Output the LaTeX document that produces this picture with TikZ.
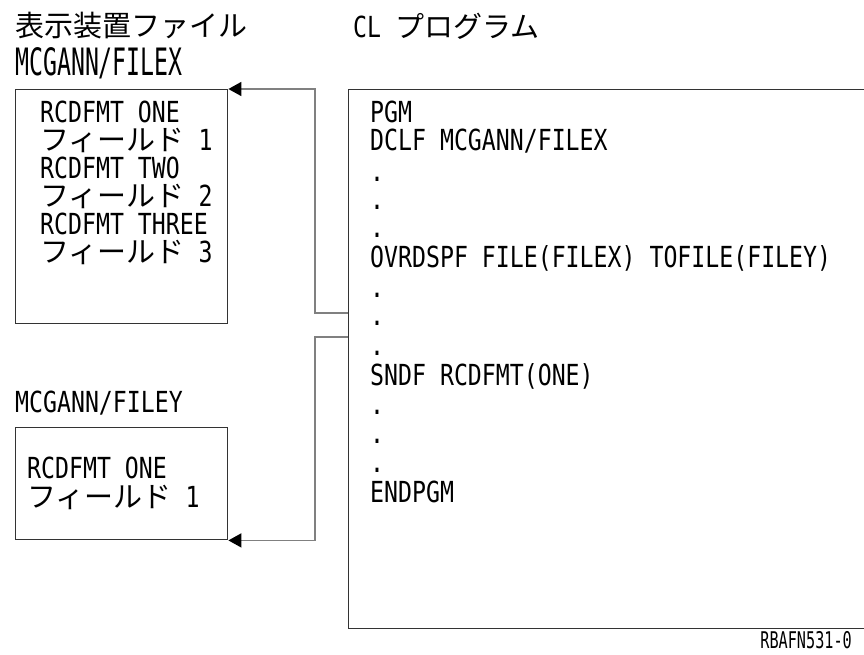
\documentclass[tikz,border=0pt]{standalone}
\usepackage{fontspec}
\setmainfont{DejaVu Sans Mono}[FakeStretch=0.8]
\newfontfamily\jp{Noto Sans CJK JP}
\newfontfamily\tagfont{DejaVu Sans Mono}[FakeStretch=0.66]
\usetikzlibrary{arrows.meta}
\begin{document}
\begin{tikzpicture}[x=1pt,y=-1pt,
  txt/.style={anchor=base west,inner sep=0pt,text height=21pt,text depth=2pt,font=\fontsize{29}{29}\selectfont},
  jpf/.style={font=\fontsize{29}{29}\selectfont\jp},
  boxst/.style={draw=black!80,line width=1.4pt,inner sep=0pt,anchor=north west},
  conn/.style={draw=black!50,line width=1.6pt,-{Triangle[length=13pt,width=14pt,color=black]}}]
\useasboundingbox (0,0) rectangle (864,654);
% titles
\node[txt,jpf] (t1) at (15,36) {表示装置ファイル};
\node[txt] (t2) at (15,75) {\scalebox{1}[1.3]{MCGANN/FILEX}};
\node[txt] (t3) at (353,37) {CL {\jp プログラム}};
\node[txt] (t4) at (15,412) {MCGANN/FILEY};
% boxes
\node[boxst,minimum width=212pt,minimum height=234pt] (fx) at (15,89) {};
\node[boxst,minimum width=212pt,minimum height=112pt] (fy) at (15,427) {};
\node[boxst,minimum width=540pt,minimum height=539pt] (prog) at (348,89) {};
% box 1 text
\node[txt] (a1) at (40,122) {RCDFMT ONE};
\node[txt] (a2) at (40,150) {{\jp フィールド} 1};
\node[txt] (a3) at (40,178) {RCDFMT TWO};
\node[txt] (a4) at (40,206) {{\jp フィールド} 2};
\node[txt] (a5) at (40,234) {RCDFMT THREE};
\node[txt] (a6) at (40,262) {{\jp フィールド} 3};
% box 2 text
\node[txt] (b1) at (27,478) {RCDFMT ONE};
\node[txt] (b2) at (27,507) {{\jp フィールド} 1};
% program text
\node[txt] (p1) at (370,122) {PGM};
\node[txt] (p2) at (370,150) {DCLF MCGANN/FILEX};
\node[txt] (p3) at (370,181) {.};
\node[txt] (p4) at (370,209) {.};
\node[txt] (p5) at (370,237) {.};
\node[txt] (p6) at (370,267) {OVRDSPF FILE(FILEX) TOFILE(FILEY)};
\node[txt] (p7) at (370,297) {.};
\node[txt] (p8) at (370,325) {.};
\node[txt] (p9) at (370,355) {.};
\node[txt] (p10) at (370,385) {SNDF RCDFMT(ONE)};
\node[txt] (p11) at (370,414) {.};
\node[txt] (p12) at (370,443) {.};
\node[txt] (p13) at (370,472) {.};
\node[txt] (p14) at (370,502) {ENDPGM};
% connectors
\draw[conn] (prog.west |- 0,313) -- (315,313) |- (fx.north east);
\draw[conn] (prog.west |- 0,337) -- (315,337) |- (fy.south east);
% tag
\node[anchor=base east,inner sep=0pt,font=\fontsize{23}{23}\selectfont\tagfont] (tag) at (852,648) {RBAFN531-0};
\end{tikzpicture}
\end{document}
